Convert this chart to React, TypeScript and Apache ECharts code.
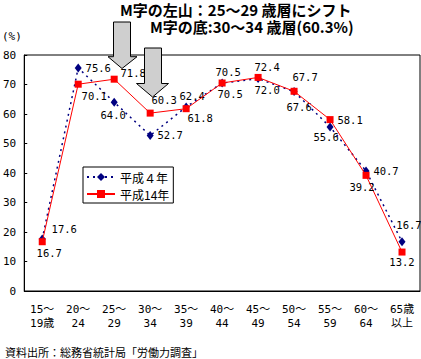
import React, { useEffect, useRef } from "react";
import * as echarts from "echarts";

const categories = ["15～\n19歳", "20～\n24", "25～\n29", "30～\n34", "35～\n39", "40～\n44", "45～\n49", "50～\n54", "55～\n59", "60～\n64", "65歳\n以上"];
const seriesNames = ["平成４年", "平成14年"];
const h4Values = [17.6, 75.6, 64.0, 52.7, 62.4, 70.5, 72.0, 67.6, 55.6, 40.7, 16.7];
const h14Values = [16.7, 70.1, 71.8, 60.3, 61.8, 70.5, 72.4, 67.7, 58.1, 39.2, 13.2];
const yTicks = { min: 0, max: 80, interval: 10 };
const titleLines = ["M字の左山：25～29 歳層にシフト", "M字の底:30～34 歳層(60.3%)"];
const unitText = "(%)";
const sourceText = "資料出所：総務省統計局「労働力調査」";

// label offsets (styling only)
const h4LabelOffsets = [[22, -10], [20, 0], [-1, 13], [20, -1], [6, -11], [8, 11], [9, 11], [5, 15], [-4, 10], [20, 0], [7, -17]];
const h14LabelOffsets = [[7, 11], [16, 12], [19, -6], [14, -13], [14, 9], [6, -11], [9, -10], [11, -14], [20, 0], [-4, 12], [0, 10]];

const MONO = "'DejaVu Sans Mono', 'Noto Sans CJK JP', monospace";
const CJK = "'Noto Sans CJK JP', sans-serif";

function buildData(values: number[], offsets: number[][]) {
  return values.map((v, i) => ({
    value: v,
    label: { offset: offsets[i] },
  }));
}

function arrow(x1: number, x2: number, top: number, headY: number, hl: number, hr: number, tipX: number, tipY: number) {
  return {
    type: "polygon",
    z: 100,
    shape: {
      points: [
        [x1, top], [x2, top], [x2, headY], [hr, headY], [tipX, tipY], [hl, headY], [x1, headY],
      ],
    },
    style: { fill: "#cfcfcf", stroke: "#000", lineWidth: 1 },
  };
}

export default function App() {
  const ref = useRef<HTMLDivElement>(null);
  useEffect(() => {
    if (!ref.current) return;
    const chart = echarts.init(ref.current, undefined, { renderer: "svg" });
    const labelBase = {
      show: true,
      position: "inside",
      color: "#000",
      fontFamily: MONO,
      fontSize: 10.5,
      align: "center",
      verticalAlign: "middle",
      formatter: (p: any) => Number(p.value).toFixed(1),
    };
    chart.setOption({
      animation: false,
      backgroundColor: "#fff",
      grid: { left: 21, right: 1, top: 55, bottom: 68, show: true, borderColor: "#000", borderWidth: 1, backgroundColor: "transparent" },
      xAxis: {
        type: "category",
        data: categories,
        boundaryGap: true,
        axisLine: { lineStyle: { color: "#000", width: 1 } },
        axisTick: { inside: true, length: 3, lineStyle: { color: "#000" } },
        axisLabel: { color: "#000", fontFamily: MONO, fontSize: 11, lineHeight: 14, margin: 11, interval: 0 },
        splitLine: { show: false },
      },
      yAxis: {
        type: "value",
        min: yTicks.min,
        max: yTicks.max,
        interval: yTicks.interval,
        axisLine: { show: true, lineStyle: { color: "#000", width: 1 } },
        axisTick: { show: true, inside: true, length: 3, lineStyle: { color: "#000" } },
        axisLabel: { color: "#000", fontFamily: MONO, fontSize: 11, margin: 8 },
        splitLine: { show: false },
      },
      legend: {
        orient: "vertical",
        left: 83,
        top: 167,
        data: seriesNames,
        borderColor: "#000",
        borderWidth: 1,
        padding: [4, 4, 3, 3],
        itemWidth: 28,
        itemHeight: 10,
        itemGap: 5,
        backgroundColor: "#fff",
        textStyle: { fontFamily: CJK, fontSize: 12, color: "#000" },
      },
      graphic: [
        { type: "text", left: 120, top: 2, z: 100, style: { text: titleLines[0], fontFamily: CJK, fontSize: 15, lineHeight: 15, fontWeight: "bold", fill: "#000" } },
        { type: "text", left: 150, top: 19, z: 100, style: { text: titleLines[1], fontFamily: CJK, fontSize: 15, lineHeight: 15, fontWeight: "bold", fill: "#000" } },
        { type: "text", left: 2, top: 31, style: { text: unitText, fontFamily: MONO, fontSize: 11, fill: "#000" } },
        { type: "text", left: 5, top: 346, style: { text: sourceText, fontFamily: CJK, fontSize: 11, fill: "#000" } },
        arrow(113.5, 130.5, 22, 56.7, 108, 137, 122, 68.5),
        arrow(144.5, 161.5, 48, 83.5, 136.5, 168.5, 152.5, 97),
      ],
      series: [
        {
          name: seriesNames[0],
          type: "line",
          data: buildData(h4Values, h4LabelOffsets),
          symbol: "diamond",
          symbolSize: [7, 9],
          itemStyle: { color: "#000080" },
          lineStyle: { color: "#000080", width: 1.5, type: [2, 4] },
          label: labelBase,
          z: 2,
        },
        {
          name: seriesNames[1],
          type: "line",
          data: buildData(h14Values, h14LabelOffsets),
          symbol: "rect",
          symbolSize: 7,
          itemStyle: { color: "#ff0000" },
          lineStyle: { color: "#ff0000", width: 1 },
          label: labelBase,
          z: 3,
        },
      ],
    });
    return () => chart.dispose();
  }, []);
  return (
    <div
      ref={ref}
      style={{ position: "fixed", left: 0, top: 0, width: 421, height: 359, background: "#fff" }}
    />
  );
}
